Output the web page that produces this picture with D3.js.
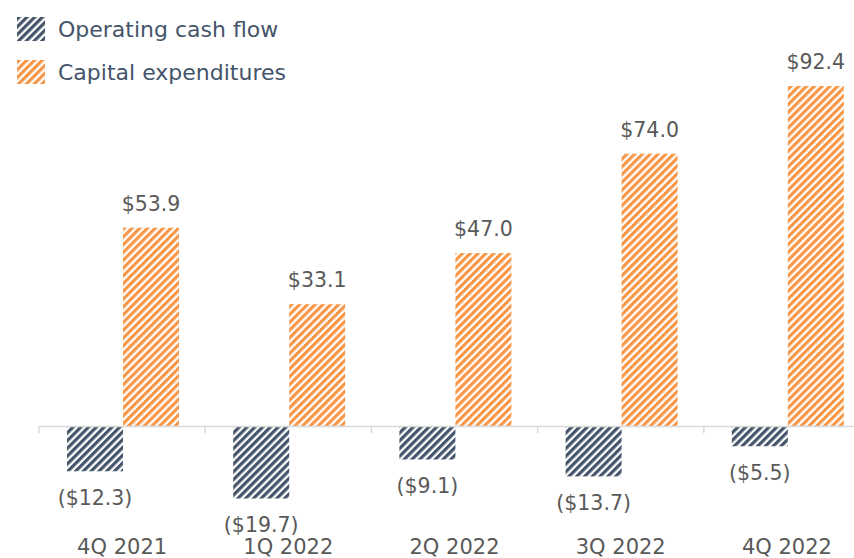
<!DOCTYPE html>
<html>
<head>
<meta charset="utf-8">
<script src="https://cdn.jsdelivr.net/npm/d3@7"></script>
<style>
  body { margin: 0; background: #fff; }
  svg { display: block; }
</style>
</head>
<body>
<div id="chart"></div>
<script>
// data
var quarters = ["4Q 2021", "1Q 2022", "2Q 2022", "3Q 2022", "4Q 2022"];
var seriesNames = ["Operating cash flow", "Capital expenditures"];
var operatingCashFlow = [-12.3, -19.7, -9.1, -13.7, -5.5];
var capex = [53.9, 33.1, 47.0, 74.0, 92.4];

var width = 854, height = 558;
var colors = ["#44546a", "#f79646"];
var font = "'DejaVu Sans', sans-serif";

var svg = d3.select("#chart")
  .append("svg")
  .attr("width", width)
  .attr("height", height);

// hatch patterns
var defs = svg.append("defs");
colors.forEach(function(c, i) {
  var p = defs.append("pattern")
    .attr("id", "hatch" + i)
    .attr("patternUnits", "userSpaceOnUse")
    .attr("width", 5.5)
    .attr("height", 5.5)
    .attr("patternTransform", "rotate(45)");
  p.append("rect").attr("width", 5.5).attr("height", 5.5).attr("fill", "#fff");
  p.append("rect").attr("width", 3.2).attr("height", 5.5).attr("fill", c);
});

// scales
var x0 = d3.scaleBand()
  .domain(quarters)
  .range([39, 39 + 5 * 166.2]);

var x1 = d3.scaleBand()
  .domain(seriesNames)
  .range([28, 140]);

var y = d3.scaleLinear()
  .domain([0, 92.4])
  .range([426, 86]);

var rows = quarters.map(function(q, i) {
  return { q: q, vals: [operatingCashFlow[i], capex[i]] };
});

var groups = svg.selectAll(".grp")
  .data(rows)
  .enter().append("g")
  .attr("transform", function(d) { return "translate(" + x0(d.q) + ",0)"; });

groups.selectAll("rect")
  .data(function(d) { return d.vals.map(function(v, k) { return { name: seriesNames[k], v: v, k: k }; }); })
  .enter().append("rect")
  .attr("x", function(d) { return x1(d.name); })
  .attr("width", x1.bandwidth())
  .attr("y", function(d) { return y(Math.max(0, d.v)); })
  .attr("height", function(d) { return Math.abs(y(d.v) - y(0)); })
  .attr("fill", function(d) { return "url(#hatch" + d.k + ")"; });

// value labels
function fmt(v) {
  return v < 0 ? "($" + Math.abs(v).toFixed(1) + ")" : "$" + v.toFixed(1);
}
groups.selectAll(".lbl")
  .data(function(d) { return d.vals.map(function(v, k) { return { name: seriesNames[k], v: v }; }); })
  .enter().append("text")
  .attr("x", function(d) { return x1(d.name) + x1.bandwidth() / 2; })
  .attr("y", function(d) { return d.v < 0 ? y(d.v) + 34 : y(d.v) - 17; })
  .attr("text-anchor", "middle")
  .attr("font-family", font)
  .attr("font-size", 20.5)
  .attr("fill", "#595959")
  .text(function(d) { return fmt(d.v); });

// axis
var axis = svg.append("g")
  .attr("transform", "translate(0," + y(0) + ")")
  .call(d3.axisBottom(x0).tickSize(0).tickPadding(113));
axis.select(".domain").attr("stroke", "#d9d9d9").attr("stroke-width", 1.5);
axis.selectAll(".tick text")
  .attr("font-family", font)
  .attr("font-size", 21)
  .attr("fill", "#595959");

// tick marks on band boundaries
svg.append("g").selectAll("line")
  .data(quarters.concat(["end"]))
  .enter().append("line")
  .attr("x1", function(d, i) { return x0.range()[0] + i * x0.step(); })
  .attr("x2", function(d, i) { return x0.range()[0] + i * x0.step(); })
  .attr("y1", y(0))
  .attr("y2", y(0) + 7)
  .attr("stroke", "#d9d9d9")
  .attr("stroke-width", 1.5);

// legend
var legend = svg.append("g").selectAll("g")
  .data(seriesNames)
  .enter().append("g")
  .attr("transform", function(d, i) { return "translate(17," + (17 + i * 43) + ")"; });
legend.append("rect")
  .attr("width", 28)
  .attr("height", 24)
  .attr("fill", function(d, i) { return "url(#hatch" + i + ")"; });
legend.append("text")
  .attr("x", 41)
  .attr("y", 20)
  .attr("font-family", font)
  .attr("font-size", 22)
  .attr("fill", "#44546a")
  .text(function(d) { return d; });
</script>
</body>
</html>
